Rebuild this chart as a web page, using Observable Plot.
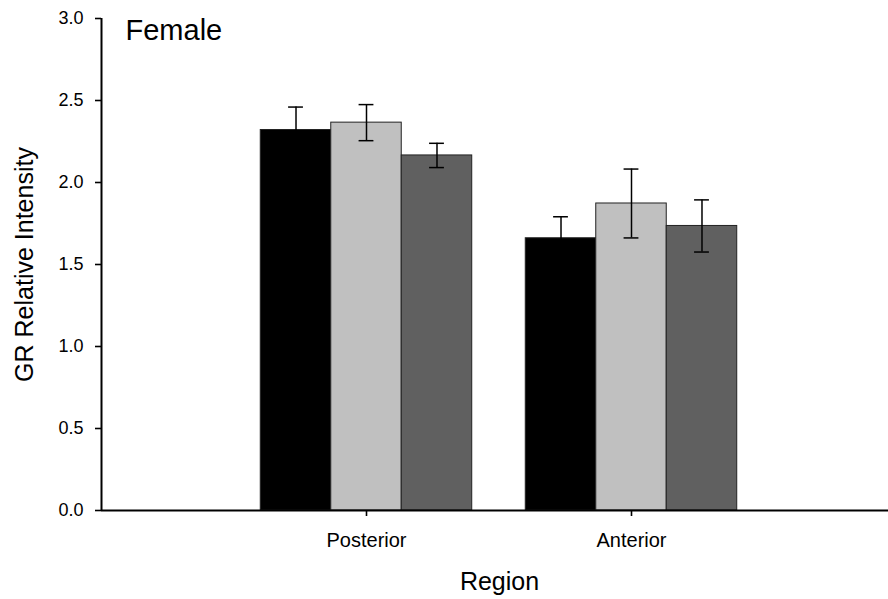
<!DOCTYPE html>
<html>
<head>
<meta charset="utf-8">
<script src="https://cdn.jsdelivr.net/npm/d3@7"></script>
<script src="https://cdn.jsdelivr.net/npm/@observablehq/plot@0.6"></script>
<style>
  html, body { margin: 0; padding: 0; background: #fff; overflow: hidden; }
</style>
</head>
<body>
<div id="chart"></div>
<script>
// ---- data ----
const regions = ["Posterior", "Anterior"];
const groups = ["Group 1", "Group 2", "Group 3"];
const groupColors = ["#000000", "#c0c0c0", "#606060"];
const posteriorMeans = [2.32, 2.365, 2.165];
const posteriorErrors = [0.14, 0.11, 0.074];
const anteriorMeans = [1.66, 1.872, 1.735];
const anteriorErrors = [0.131, 0.21, 0.159];
const yTicks = [0, 0.5, 1.0, 1.5, 2.0, 2.5, 3.0];
const panelTitle = "Female";
const xTitle = "Region";
const yTitle = "GR Relative Intensity";

// ---- build table ----
const barWidth = 0.266;   // in x units (one region step = 1)
const capHalf = 0.028;
const meansByRegion = [posteriorMeans, anteriorMeans];
const errorsByRegion = [posteriorErrors, anteriorErrors];
const rows = [];
regions.forEach((r, ri) => {
  groups.forEach((g, gi) => {
    const center = (ri + 1) + (gi - 1) * barWidth;
    rows.push({
      region: r, group: g, color: groupColors[gi],
      x1: center - barWidth / 2, x2: center + barWidth / 2, xc: center,
      mean: meansByRegion[ri][gi],
      lo: meansByRegion[ri][gi] - errorsByRegion[ri][gi],
      hi: meansByRegion[ri][gi] + errorsByRegion[ri][gi]
    });
  });
});
const caps = rows.flatMap(d => [{xc: d.xc, y: d.lo}, {xc: d.xc, y: d.hi}]);

const font = "'Liberation Sans', Arial, Helvetica, sans-serif";

const chart = Plot.plot({
  width: 888,
  height: 599,
  marginLeft: 101,
  marginRight: 0,
  marginTop: 18,
  marginBottom: 89,
  style: { fontFamily: font, fontSize: "18px", color: "#000", background: "#fff" },
  x: { type: "linear", domain: [0, 3], range: [101, 896], axis: null },
  y: { domain: [0, 3], axis: null },
  marks: [
    Plot.rectY(rows, { x1: "x1", x2: "x2", y1: 0, y2: "mean", fill: "color", stroke: "#222", strokeWidth: 1 }),
    Plot.ruleX(rows, { x: "xc", y1: "lo", y2: "hi", stroke: "#000", strokeWidth: 1.5 }),
    Plot.ruleY(caps, { y: "y", x1: d => d.xc - capHalf, x2: d => d.xc + capHalf, stroke: "#000", strokeWidth: 1.5 }),
    Plot.ruleX([0], { stroke: "#000", strokeWidth: 2 }),
    Plot.ruleY([0], { stroke: "#000", strokeWidth: 2 }),
    Plot.axisY({ ticks: yTicks, tickFormat: d3.format(".1f"), tickSize: 6, tickPadding: 12, strokeWidth: 1.6, fontSize: 18, label: null }),
    Plot.axisX({ ticks: [1, 2], tickFormat: d => regions[d - 1], tickSize: 6, tickPadding: 16, strokeWidth: 1.6, fontSize: 20, label: null }),
    Plot.text([panelTitle], { frameAnchor: "top-left", dx: 24, dy: 1, lineAnchor: "top", textAnchor: "start", fontSize: 29, fill: "#000" }),
    Plot.text([yTitle], { frameAnchor: "left", rotate: -90, dx: -77, lineAnchor: "middle", textAnchor: "middle", fontSize: 25, fill: "#000" }),
    Plot.text([xTitle], { frameAnchor: "bottom", dx: 4.5, dy: 62, lineAnchor: "top", textAnchor: "middle", fontSize: 25, fill: "#000" })
  ]
});
document.getElementById("chart").appendChild(chart);
</script>
</body>
</html>
